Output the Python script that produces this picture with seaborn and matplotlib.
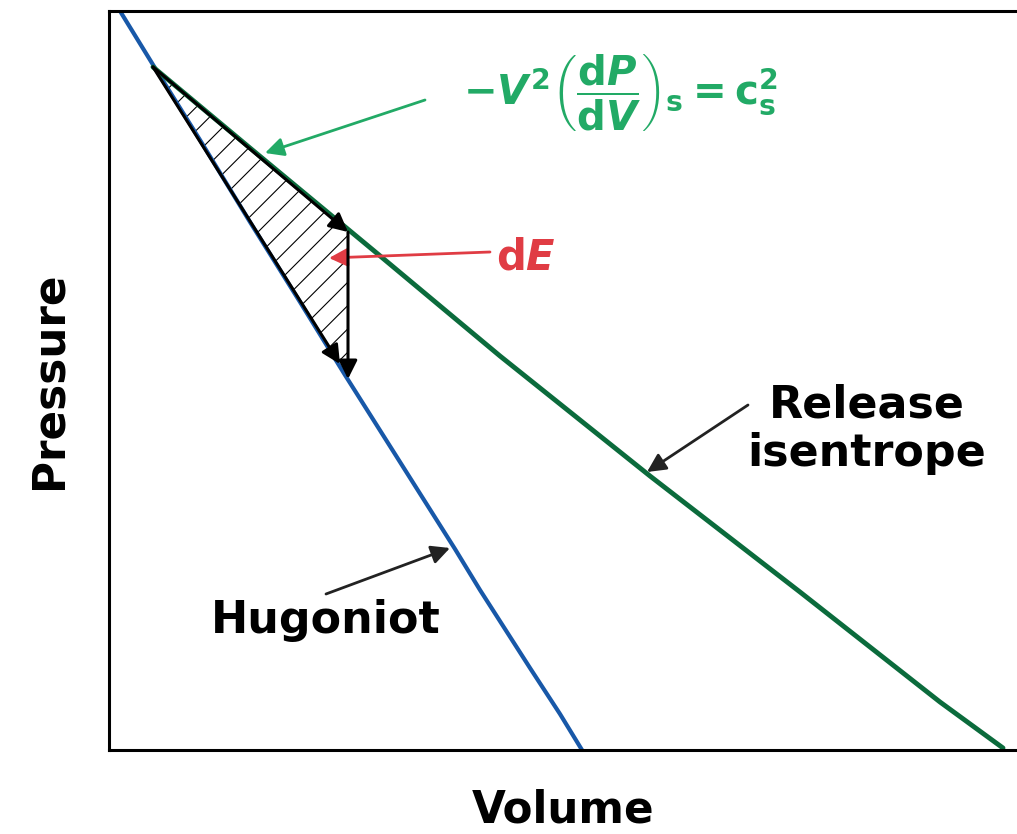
"""
Hugoniot vs release isentrope sketch in the P-V plane.
"""

import matplotlib
matplotlib.use("Agg")
import matplotlib.pyplot as plt
import seaborn as sns
import pandas as pd

# curve samples (volume, pressure) in arbitrary units
hugoniot_v = [120, 155, 200, 250, 300, 345, 400, 455, 480, 530, 560, 582]
hugoniot_p = [739, 682, 610, 528, 448, 375, 288, 201, 160, 82, 36, 0]

isentrope_v = [153, 250, 373, 500, 650, 800, 940, 1003]
isentrope_p = [683, 602, 500, 394, 274, 158, 48, 2]

# hatched work triangle (dE): start, end on isentrope, end of drop, end on Hugoniot
wedge_v = [153, 348, 348, 340]
wedge_p = [683, 518, 375, 386]

GREEN_LINE = "#0b6b3c"
GREEN_TEXT = "#22aa66"
BLUE = "#1858a8"
RED = "#e03c44"
FONT = "DejaVu Sans"

# render at a higher dpi so the hatch spacing matches; sizes below are
# given as if at 100 dpi and scaled by K
DPI = 140
K = 100 / DPI

sns.set_theme(style="white")
plt.rcParams["font.family"] = [FONT]
plt.rcParams["text.color"] = "black"
plt.rcParams["axes.labelcolor"] = "black"
plt.rcParams["mathtext.fontset"] = "custom"
plt.rcParams["mathtext.rm"] = f"{FONT}:bold"
plt.rcParams["mathtext.it"] = f"{FONT}:bold:italic"
plt.rcParams["mathtext.bf"] = f"{FONT}:bold"
plt.rcParams["hatch.linewidth"] = 0.8 * K

fig = plt.figure(figsize=(1017 / DPI, 834 / DPI), dpi=DPI)
ax = fig.add_axes([109 / 1017, 84 / 834, 908 / 1017, 739 / 834])

hug = pd.DataFrame({"V": hugoniot_v, "P": hugoniot_p})
ise = pd.DataFrame({"V": isentrope_v, "P": isentrope_p})

sns.lineplot(data=hug, x="V", y="P", sort=False, color=BLUE, lw=3 * K, ax=ax)
sns.lineplot(data=ise, x="V", y="P", sort=False, color=GREEN_LINE, lw=3.5 * K, ax=ax)

ax.fill(wedge_v, wedge_p, facecolor="none", edgecolor="black", hatch="//",
        lw=0, zorder=1)


def arrow(color, lw=2.0):
    return dict(arrowstyle="-|>", color=color, lw=lw * K, mutation_scale=28 * K,
                shrinkA=0, shrinkB=0)


ax.annotate("", xy=(wedge_v[1], wedge_p[1]), xytext=(wedge_v[0], wedge_p[0]),
            arrowprops=arrow("black", 2.2), zorder=4)
ax.annotate("", xy=(wedge_v[3], wedge_p[3]), xytext=(wedge_v[0], wedge_p[0]),
            arrowprops=arrow("black", 2.2), zorder=4)
ax.annotate("", xy=(wedge_v[2], wedge_p[2] - 4), xytext=(wedge_v[1], wedge_p[1]),
            arrowprops=arrow("black", 2.2), zorder=4)

# equation label for the isentrope slope
ax.text(620, 657,
        r"$-V^2\left(\dfrac{\mathrm{d}P}{\mathrm{d}V}\right)_\mathrm{s}=\mathrm{c}_\mathrm{s}^2$",
        color=GREEN_TEXT, fontsize=29 * K, ha="center", va="center")
ax.annotate("", xy=(265, 597), xytext=(425, 650), arrowprops=arrow(GREEN_TEXT))

ax.annotate("", xy=(329, 492), xytext=(490, 498), arrowprops=arrow(RED))
ax.text(496, 492, r"$\mathrm{d}E$", color=RED, fontsize=30 * K,
        ha="left", va="center")

ax.annotate("", xy=(647, 278), xytext=(748, 345), arrowprops=arrow("#222222"))
ax.text(867, 321, "Release\nisentrope", fontsize=32 * K, fontweight="bold",
        ha="center", va="center", linespacing=1.17)

ax.annotate("", xy=(450, 202), xytext=(326, 156), arrowprops=arrow("#222222"))
ax.text(326, 129, "Hugoniot", fontsize=32 * K, fontweight="bold",
        ha="center", va="center")

ax.set_xlim(109, 1017)
ax.set_ylim(0, 739)
ax.set_xticks([])
ax.set_yticks([])
ax.set_xlabel("Volume", fontsize=31.5 * K, fontweight="bold", labelpad=28 * K)
ax.set_ylabel("Pressure", fontsize=31.5 * K, fontweight="bold", labelpad=28 * K)
for side in ["left", "top", "bottom"]:
    ax.spines[side].set_color("black")
    ax.spines[side].set_linewidth(2.2 * K)
ax.spines["right"].set_visible(False)

fig.savefig("out.png", dpi=DPI)
